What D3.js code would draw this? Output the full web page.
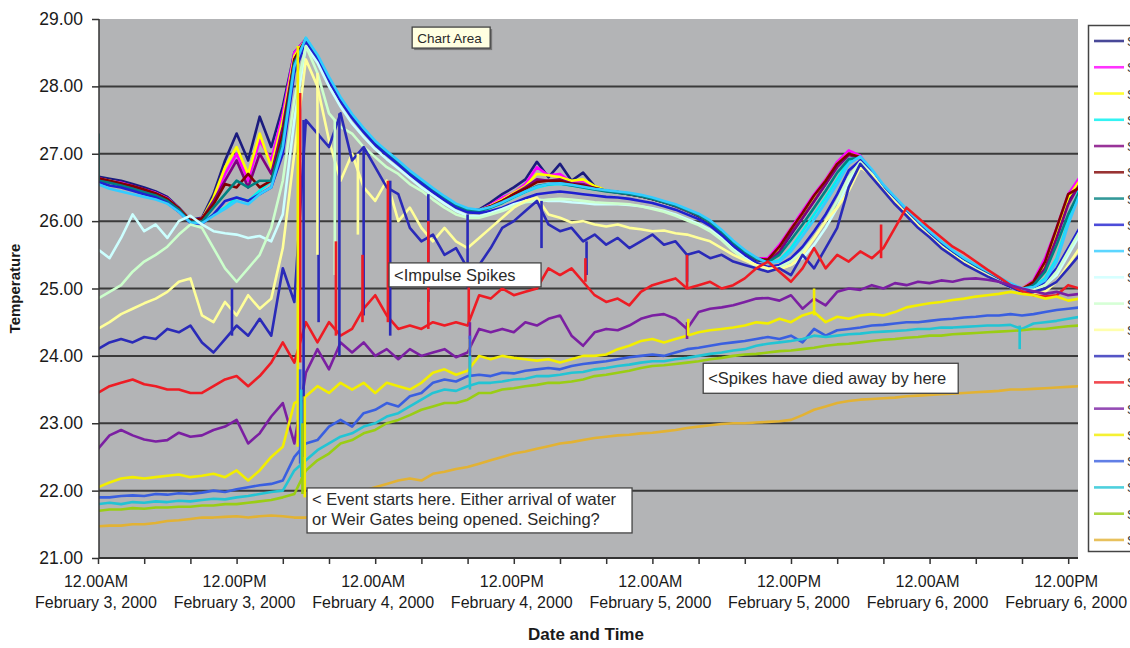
<!DOCTYPE html>
<html lang="en">
<head>
<meta charset="UTF-8">
<script src="https://d3js.org/d3.v7.min.js"></script>
<style>
  body { margin: 0; background: #fff; }
  svg { display: block; font-family: "Liberation Sans", Arial, sans-serif; }
</style>
</head>
<body>
<svg id="chart" width="1130" height="648"></svg>
<script>

// hourly readings from 12.00AM February 3, 2000
const t0 = new Date(2000, 1, 3, 0, 0)
const times = d3.range(86).map(h => d3.timeHour.offset(t0, h))

const s01 = [26.66,26.63,26.6,26.55,26.5,26.44,26.36,26.2,26.02,26.05,
  26.4,26.9,27.3,26.9,27.55,27.1,27.7,28.5,28.7,28.4,
  28.08,27.8,27.55,27.34,27.15,27.0,26.86,26.72,26.58,26.45,
  26.33,26.22,26.16,26.17,26.28,26.4,26.5,26.62,26.88,26.65,
  26.85,26.6,26.72,26.52,26.45,26.42,26.4,26.37,26.33,26.28,
  26.22,26.15,26.07,25.96,25.82,25.66,25.52,25.42,25.4,25.55,
  25.8,26.05,26.3,26.55,26.85,27.02,26.95,26.72,26.5,26.32,
  26.14,25.97,25.81,25.66,25.53,25.41,25.31,25.22,25.13,25.05,
  25.0,25.1,25.4,25.8,26.3,26.6]
const s02 = [26.64,26.6,26.57,26.52,26.47,26.42,26.34,26.19,26.01,26.04,
  26.3,26.7,27.0,26.6,27.2,26.9,27.6,28.5,28.7,28.42,
  28.1,27.8,27.56,27.35,27.16,27.01,26.87,26.72,26.59,26.46,
  26.34,26.23,26.16,26.16,26.24,26.35,26.42,26.55,26.8,26.68,
  26.7,26.58,26.6,26.5,26.46,26.43,26.41,26.38,26.34,26.29,
  26.23,26.16,26.09,25.98,25.84,25.68,25.55,25.45,25.45,25.65,
  25.9,26.15,26.4,26.62,26.88,27.05,26.97,26.74,26.51,26.33,
  26.15,25.98,25.82,25.67,25.54,25.42,25.32,25.23,25.14,25.06,
  25.0,25.12,25.45,25.9,26.4,26.65]
const s03 = [26.63,26.6,26.56,26.51,26.46,26.41,26.33,26.19,26.01,26.03,
  26.35,26.8,27.1,26.7,27.3,26.8,27.5,28.45,28.7,28.43,
  28.1,27.8,27.56,27.35,27.16,27.01,26.87,26.72,26.59,26.46,
  26.34,26.23,26.16,26.16,26.23,26.32,26.42,26.52,26.7,26.68,
  26.65,26.6,26.62,26.52,26.46,26.43,26.41,26.38,26.34,26.29,
  26.23,26.16,26.09,25.98,25.84,25.68,25.54,25.44,25.42,25.6,
  25.88,26.1,26.35,26.6,26.85,27.0,26.95,26.74,26.51,26.33,
  26.15,25.98,25.82,25.67,25.54,25.42,25.32,25.23,25.14,25.05,
  25.0,25.1,25.35,25.85,26.35,26.6]
const s04 = [26.62,26.58,26.55,26.5,26.45,26.4,26.32,26.18,26.0,25.98,
  26.1,26.2,26.35,26.3,26.45,26.6,27.2,28.3,28.72,28.45,
  28.12,27.82,27.57,27.36,27.17,27.02,26.88,26.73,26.6,26.47,
  26.35,26.24,26.17,26.15,26.2,26.27,26.35,26.43,26.5,26.54,
  26.55,26.53,26.5,26.47,26.45,26.43,26.41,26.38,26.34,26.29,
  26.24,26.17,26.1,26.0,25.86,25.7,25.56,25.45,25.38,25.42,
  25.6,25.85,26.1,26.35,26.62,26.9,26.95,26.75,26.52,26.34,
  26.16,25.99,25.83,25.68,25.55,25.43,25.33,25.24,25.15,25.06,
  24.99,25.02,25.15,25.45,26.0,26.5]
const s05 = [26.63,26.59,26.56,26.51,26.46,26.41,26.33,26.19,26.0,26.03,
  26.3,26.6,26.9,26.5,27.0,26.7,27.4,28.4,28.7,28.43,
  28.1,27.8,27.56,27.35,27.16,27.01,26.87,26.72,26.59,26.46,
  26.34,26.23,26.16,26.15,26.22,26.3,26.4,26.5,26.62,26.6,
  26.62,26.56,26.55,26.49,26.45,26.43,26.4,26.37,26.33,26.28,
  26.23,26.16,26.09,25.98,25.84,25.68,25.54,25.44,25.4,25.55,
  25.82,26.05,26.3,26.55,26.8,26.98,26.94,26.74,26.51,26.33,
  26.15,25.98,25.82,25.67,25.54,25.42,25.32,25.23,25.14,25.05,
  24.99,25.08,25.3,25.75,26.25,26.55]
const s06 = [26.64,26.6,26.56,26.52,26.47,26.41,26.33,26.19,26.01,26.04,
  26.25,26.55,26.5,26.7,26.5,26.6,27.3,28.4,28.7,28.43,
  28.1,27.81,27.56,27.35,27.16,27.01,26.87,26.72,26.59,26.46,
  26.34,26.23,26.16,26.16,26.22,26.3,26.4,26.48,26.58,26.6,
  26.6,26.55,26.53,26.49,26.45,26.43,26.4,26.37,26.33,26.28,
  26.23,26.16,26.09,25.98,25.84,25.68,25.54,25.44,25.43,25.62,
  25.88,26.12,26.38,26.6,26.85,27.0,26.95,26.74,26.51,26.33,
  26.15,25.98,25.82,25.67,25.54,25.42,25.32,25.23,25.14,25.05,
  24.99,25.1,25.4,25.9,26.4,26.5]
const s07 = [26.6,26.57,26.53,26.48,26.43,26.38,26.3,26.17,25.99,25.99,
  26.2,26.4,26.6,26.5,26.6,26.6,27.2,28.35,28.7,28.43,
  28.1,27.8,27.56,27.35,27.16,27.01,26.87,26.72,26.59,26.46,
  26.34,26.23,26.16,26.15,26.2,26.27,26.36,26.44,26.52,26.55,
  26.56,26.53,26.5,26.47,26.44,26.42,26.4,26.37,26.33,26.28,
  26.23,26.16,26.09,25.98,25.84,25.68,25.54,25.44,25.39,25.5,
  25.72,25.95,26.2,26.45,26.72,26.92,26.94,26.74,26.51,26.33,
  26.15,25.98,25.82,25.67,25.54,25.42,25.32,25.23,25.14,25.05,
  24.98,25.05,25.25,25.65,26.1,26.45]
const s08 = [26.58,26.53,26.5,26.45,26.4,26.35,26.27,26.14,25.97,25.96,
  26.1,26.3,26.35,26.3,26.4,26.5,27.0,28.2,28.65,28.4,
  28.08,27.78,27.53,27.32,27.13,26.98,26.84,26.69,26.56,26.43,
  26.31,26.2,26.13,26.12,26.15,26.2,26.27,26.34,26.4,26.42,
  26.44,26.42,26.4,26.38,26.36,26.35,26.33,26.3,26.27,26.22,
  26.17,26.1,26.03,25.93,25.79,25.63,25.5,25.38,25.32,25.35,
  25.45,25.62,25.85,26.1,26.4,26.75,26.9,26.72,26.49,26.31,
  26.13,25.96,25.8,25.65,25.52,25.4,25.3,25.21,25.12,25.04,
  24.97,24.98,25.1,25.3,25.6,25.9]
const s09 = [26.55,26.48,26.44,26.4,26.36,26.32,26.26,26.14,25.98,25.97,
  26.08,26.18,26.3,26.25,26.4,26.5,27.1,28.3,28.72,28.47,
  28.14,27.84,27.59,27.38,27.19,27.04,26.9,26.75,26.62,26.49,
  26.37,26.26,26.19,26.17,26.21,26.28,26.36,26.44,26.51,26.55,
  26.56,26.54,26.51,26.48,26.46,26.44,26.42,26.39,26.35,26.3,
  26.25,26.18,26.11,26.01,25.87,25.71,25.57,25.46,25.38,25.4,
  25.55,25.78,26.02,26.28,26.55,26.85,26.96,26.77,26.54,26.36,
  26.18,26.01,25.85,25.7,25.57,25.45,25.35,25.26,25.17,25.08,
  25.0,25.02,25.12,25.4,25.95,26.4]
const s10 = [25.58,25.45,25.75,26.1,25.85,25.95,25.75,26.0,26.08,25.95,
  25.85,25.82,25.8,25.75,25.78,25.7,26.1,27.5,28.6,28.35,
  28.0,27.7,27.45,27.25,27.07,26.92,26.78,26.64,26.5,26.38,
  26.26,26.15,26.08,26.07,26.12,26.18,26.25,26.3,26.32,26.3,
  26.3,26.28,26.27,26.25,26.25,26.25,26.24,26.22,26.19,26.15,
  26.1,26.03,25.96,25.87,25.74,25.58,25.45,25.34,25.28,25.3,
  25.35,25.45,25.65,25.9,26.2,26.6,26.85,26.7,26.46,26.28,
  26.1,25.93,25.77,25.62,25.5,25.38,25.28,25.19,25.1,25.02,
  24.96,24.97,25.05,25.2,25.5,25.8]
const s11 = [24.85,24.95,25.05,25.25,25.4,25.5,25.62,25.8,25.95,25.9,
  25.6,25.3,25.1,25.3,25.5,25.9,26.6,27.8,28.6,28.2,
  27.6,27.4,27.3,27.1,26.95,26.8,26.7,26.55,26.45,26.32,
  26.2,26.1,26.05,26.05,26.1,26.15,26.22,26.28,26.3,26.32,
  26.33,26.32,26.3,26.28,26.27,26.26,26.25,26.22,26.18,26.14,
  26.08,26.01,25.94,25.85,25.72,25.56,25.43,25.33,25.28,25.32,
  25.4,25.55,25.75,26.0,26.3,26.65,26.88,26.7,26.47,26.29,
  26.11,25.94,25.78,25.63,25.5,25.39,25.29,25.2,25.11,25.03,
  24.97,24.98,25.05,25.25,25.55,25.85]
const s12 = [24.4,24.5,24.62,24.7,24.78,24.85,24.95,25.1,25.15,24.6,
  24.5,24.8,24.6,24.9,24.7,24.85,25.6,27.0,28.4,28.0,
  27.2,26.6,27.0,26.5,26.3,26.6,26.0,26.2,25.9,25.7,
  25.9,25.7,25.6,25.75,25.9,26.05,26.2,26.3,26.35,26.1,
  26.05,25.98,26.0,25.95,25.92,25.95,25.9,25.88,25.85,25.86,
  25.82,25.8,25.75,25.7,25.6,25.5,25.42,25.35,25.3,25.28,
  25.35,25.5,25.75,26.0,26.2,26.45,26.8,26.68,26.46,26.28,
  26.1,25.93,25.77,25.62,25.5,25.38,25.28,25.19,25.1,25.02,
  24.95,24.9,24.95,25.1,25.35,25.6]
const s13 = [24.1,24.2,24.25,24.2,24.28,24.25,24.4,24.35,24.45,24.2,
  24.05,24.25,24.45,24.3,24.55,24.3,25.3,24.8,27.5,27.3,
  27.1,27.6,26.9,27.1,26.8,26.5,26.4,25.9,25.7,25.8,
  25.5,25.6,25.3,25.35,25.6,25.9,26.0,26.15,26.3,25.95,
  25.85,25.9,25.7,25.8,25.65,25.75,25.6,25.7,25.8,25.65,
  25.7,25.5,25.55,25.45,25.5,25.4,25.35,25.3,25.25,25.3,
  25.2,25.5,25.3,25.6,25.9,26.5,26.85,26.65,26.45,26.25,
  26.08,25.9,25.76,25.6,25.48,25.36,25.27,25.18,25.1,25.02,
  24.95,24.95,25.0,25.1,25.3,25.5]
const s14 = [23.45,23.55,23.6,23.65,23.58,23.55,23.5,23.5,23.45,23.45,
  23.55,23.65,23.7,23.55,23.7,23.9,24.2,23.9,24.5,24.2,
  24.5,24.3,24.4,24.7,24.9,24.6,24.4,24.45,24.4,24.5,
  24.45,24.5,24.45,24.9,24.85,25.0,24.9,24.95,25.0,25.3,
  25.2,25.3,25.1,24.9,24.8,24.85,24.75,24.95,25.05,25.1,
  25.15,25.0,25.05,25.1,25.0,25.05,25.15,25.3,25.4,25.25,
  25.1,25.3,25.6,25.3,25.5,25.4,25.55,25.45,25.6,25.9,
  26.2,26.05,25.9,25.76,25.62,25.52,25.4,25.28,25.17,25.05,
  24.96,24.9,24.88,24.9,25.05,25.0]
const s15 = [22.62,22.82,22.9,22.82,22.76,22.73,22.75,22.86,22.8,22.82,
  22.9,22.95,23.05,22.7,22.85,23.1,23.3,22.7,23.75,24.1,
  23.8,24.2,24.05,24.2,24.0,24.1,23.95,24.1,24.0,24.05,
  24.1,23.98,24.05,24.4,24.35,24.4,24.35,24.5,24.45,24.55,
  24.6,24.3,24.15,24.35,24.4,24.38,24.45,24.55,24.6,24.62,
  24.55,24.4,24.65,24.7,24.72,24.75,24.8,24.85,24.86,24.82,
  24.9,24.7,24.85,24.75,24.95,25.0,24.98,25.05,25.0,25.08,
  25.05,25.1,25.08,25.12,25.1,25.14,25.15,25.13,25.1,25.05,
  25.0,24.96,24.92,24.95,24.9,24.92]
const s16 = [22.05,22.12,22.18,22.2,22.18,22.2,22.22,22.24,22.2,22.22,
  22.25,22.2,22.3,22.15,22.3,22.5,22.65,23.3,23.4,23.55,
  23.45,23.6,23.5,23.6,23.45,23.6,23.55,23.5,23.6,23.75,
  23.8,23.72,23.78,24.0,23.95,24.0,23.97,23.95,23.93,23.95,
  23.9,23.95,24.0,24.0,24.02,24.1,24.15,24.22,24.25,24.2,
  24.25,24.3,24.35,24.38,24.4,24.42,24.45,24.5,24.48,24.55,
  24.5,24.6,24.65,24.5,24.58,24.55,24.6,24.62,24.6,24.65,
  24.72,24.75,24.78,24.8,24.83,24.85,24.88,24.9,24.92,24.95,
  24.92,24.9,24.85,24.88,24.82,24.85]
const s17 = [21.9,21.9,21.92,21.93,21.92,21.95,21.94,21.96,21.95,21.97,
  22.0,21.98,22.02,22.05,22.08,22.1,22.15,22.5,22.7,22.75,
  22.95,23.05,22.95,23.15,23.2,23.3,23.25,23.4,23.45,23.6,
  23.65,23.62,23.7,23.72,23.7,23.75,23.74,23.78,23.8,23.82,
  23.8,23.85,23.88,23.9,23.92,23.95,23.98,24.0,24.02,24.0,
  24.05,24.1,24.12,24.15,24.18,24.2,24.22,24.25,24.28,24.25,
  24.3,24.2,24.4,24.3,24.38,24.4,24.42,24.45,24.46,24.48,
  24.5,24.5,24.52,24.54,24.55,24.57,24.58,24.6,24.6,24.62,
  24.6,24.62,24.65,24.68,24.7,24.72]
const s18 = [21.8,21.82,21.8,21.83,21.82,21.84,21.83,21.85,21.84,21.86,
  21.88,21.87,21.9,21.92,21.95,21.98,22.0,22.3,22.45,22.6,
  22.7,22.8,22.85,22.95,23.0,23.1,23.15,23.25,23.35,23.45,
  23.5,23.48,23.55,23.6,23.6,23.62,23.65,23.66,23.7,23.7,
  23.72,23.75,23.76,23.8,23.82,23.85,23.87,23.9,23.92,23.92,
  23.95,23.97,24.0,24.03,24.05,24.08,24.1,24.15,24.18,24.2,
  24.22,24.25,24.3,24.28,24.3,24.32,24.33,24.35,24.36,24.37,
  24.38,24.4,24.4,24.42,24.42,24.43,24.44,24.45,24.45,24.46,
  24.4,24.48,24.5,24.52,24.55,24.58]
const s19 = [21.7,21.72,21.72,21.74,21.73,21.75,21.75,21.76,21.76,21.78,
  21.78,21.8,21.8,21.82,21.84,21.86,21.9,21.95,22.3,22.45,
  22.55,22.7,22.75,22.85,22.9,23.0,23.05,23.12,23.2,23.25,
  23.3,23.3,23.35,23.45,23.45,23.5,23.52,23.55,23.57,23.6,
  23.6,23.62,23.65,23.7,23.72,23.75,23.78,23.82,23.85,23.86,
  23.88,23.9,23.92,23.95,23.97,24.0,24.02,24.03,24.05,24.07,
  24.08,24.1,24.12,24.15,24.17,24.18,24.2,24.22,24.24,24.25,
  24.27,24.28,24.3,24.3,24.32,24.33,24.34,24.35,24.36,24.37,
  24.38,24.4,24.4,24.42,24.44,24.45]
const s20 = [21.47,21.48,21.48,21.5,21.5,21.52,21.55,21.56,21.58,21.6,
  21.6,21.61,21.62,21.6,21.62,21.63,21.62,21.6,21.6,21.65,
  21.75,21.85,21.92,22.0,22.05,22.1,22.15,22.18,22.15,22.25,
  22.28,22.32,22.35,22.4,22.45,22.5,22.55,22.58,22.62,22.66,
  22.7,22.72,22.75,22.78,22.8,22.82,22.83,22.85,22.86,22.88,
  22.9,22.93,22.95,22.97,22.99,23.0,23.0,23.01,23.02,23.03,
  23.05,23.12,23.2,23.25,23.3,23.33,23.35,23.36,23.37,23.38,
  23.4,23.41,23.42,23.43,23.44,23.45,23.46,23.47,23.48,23.5,
  23.5,23.51,23.52,23.53,23.54,23.55]

const seriesValues = [s01,s02,s03,s04,s05,s06,s07,s08,s09,s10,s11,s12,s13,s14,s15,s16,s17,s18,s19,s20]
const seriesNames = d3.range(1, 21).map(i => 'Series' + i)
const seriesColors = ['#1b1b7e','#ff00ff','#ffff00','#00f0f0','#800080','#800000','#008080','#1f1fd0','#33ccff','#ccffff',
  '#ccffcc','#ffff99','#2a2ab8','#ee1c24','#7b1fa2','#f2ee00','#3a5fe0','#22c4d4','#9acd14','#e2b234']

// short impulse spikes: [series, hour, from, to]
const spikes = [
  [7, 0.05, 26.6, 27.3],
  [13, 11.6, 24.3, 25.0], [13, 17.8, 27.5, 22.5], [13, 19.1, 27.3, 24.5], [13, 20.9, 27.6, 24.0],
  [13, 23.0, 27.1, 24.6], [13, 25.3, 26.6, 24.3], [13, 28.6, 26.4, 24.8], [13, 32.0, 26.1, 25.0],
  [13, 38.4, 26.3, 25.6], [13, 42.3, 25.7, 25.2], [13, 51.0, 25.5, 25.1],
  [12, 19.0, 28.2, 25.5], [12, 22.5, 27.0, 25.8], [11, 20.5, 27.5, 25.2],
  [14, 17.5, 23.9, 27.9], [14, 20.6, 24.3, 25.7], [14, 22.9, 24.5, 25.5], [14, 25.1, 24.5, 26.6],
  [14, 28.6, 24.4, 26.0], [14, 32.1, 24.45, 25.1], [14, 42.2, 25.1, 25.45], [14, 51.0, 25.0, 25.5],
  [14, 67.8, 25.45, 25.95],
  [15, 32.2, 24.05, 24.5], [15, 51.0, 24.5, 24.25],
  [16, 17.3, 22.65, 28.6], [16, 17.9, 23.4, 21.9], [16, 32.2, 23.78, 24.25], [16, 51.1, 24.3, 24.55], [16, 62.0, 24.6, 25.0],
  [17, 17.5, 22.4, 23.8], [17, 32.2, 23.7, 24.3],
  [18, 17.6, 22.2, 23.5], [18, 32.2, 23.5, 24.0], [18, 79.8, 24.45, 24.1],
  [19, 17.7, 21.95, 23.0]
]

// text boxes: hour and temperature of the top-left corner
const notes = [
  {hour: 27.2, temp: 28.88, w: 78, h: 21, lines: ['Chart Area'], tip: true},
  {hour: 25.2, temp: 25.38, w: 152, h: 24, lines: ['<Impulse Spikes']},
  {hour: 18.1, temp: 22.04, w: 325, h: 45, lines: ['< Event starts here. Either arrival of water', 'or Weir Gates being opened. Seiching?']},
  {hour: 52.4, temp: 23.89, w: 255, h: 30, lines: ['<Spikes have died away by here']}
]

const yTicks = [21, 22, 23, 24, 25, 26, 27, 28, 29]

const plot = {left: 99, right: 1078, top: 19, bottom: 558}
const atHour = h => new Date(+t0 + h * 3600e3)

let x = d3.scaleTime()
    .domain([t0, atHour(84.85)])
    .range([98, plot.right])

let y = d3.scaleLinear()
    .domain([21, 29])
    .range([plot.bottom, plot.top])

let svg = d3.select('#chart')

svg.append('defs').append('clipPath')
    .attr('id', 'plotclip')
  .append('rect')
    .attr('x', plot.left)
    .attr('y', plot.top - 2)
    .attr('width', plot.right - plot.left)
    .attr('height', plot.bottom - plot.top + 2)

// plot background
svg.append('rect')
    .attr('x', plot.left)
    .attr('y', plot.top)
    .attr('width', plot.right - plot.left)
    .attr('height', plot.bottom - plot.top)
    .attr('fill', '#b3b4b6')

// gridlines
svg.append('g')
  .selectAll('line')
  .data(yTicks.filter(d => d > 21 && d < 29))
  .join('line')
    .attr('x1', plot.left)
    .attr('x2', plot.right)
    .attr('y1', d => y(d))
    .attr('y2', d => y(d))
    .attr('stroke', '#3a3a3a')
    .attr('stroke-width', 2)

// series
let lines = svg.append('g').attr('clip-path', 'url(#plotclip)')
let line = d3.line()
    .x((d, i) => x(times[i]))
    .y(d => y(d))

lines.selectAll('path')
  .data(seriesValues)
  .join('path')
    .attr('d', line)
    .attr('fill', 'none')
    .attr('stroke', (d, i) => seriesColors[i])
    .attr('stroke-width', 2.6)
    .attr('stroke-linejoin', 'round')

lines.selectAll('line.spike')
  .data(spikes)
  .join('line')
    .attr('class', 'spike')
    .attr('x1', d => x(atHour(d[1])))
    .attr('x2', d => x(atHour(d[1])))
    .attr('y1', d => y(d[2]))
    .attr('y2', d => y(d[3]))
    .attr('stroke', d => seriesColors[d[0] - 1])
    .attr('stroke-width', 2.6)

// y axis
let yAxis = svg.append('g')
    .attr('transform', `translate(${plot.left},0)`)
    .call(d3.axisLeft(y).tickValues(yTicks).tickFormat(d3.format('.2f')).tickSize(7).tickPadding(9))
yAxis.select('.domain').remove()
yAxis.selectAll('.tick line').attr('stroke', '#333').attr('stroke-width', 1.5)
yAxis.selectAll('.tick text')
    .attr('font-size', 17.5)
    .attr('fill', '#1a1a1a')
    .attr('font-family', '"Liberation Sans", Arial, sans-serif')
svg.append('line')
    .attr('x1', plot.left).attr('x2', plot.left)
    .attr('y1', plot.top).attr('y2', plot.bottom + 1)
    .attr('stroke', '#333').attr('stroke-width', 1.5)

// x axis
let xAxis = svg.append('g')
    .attr('transform', `translate(0,${plot.bottom})`)
    .call(d3.axisBottom(x).ticks(d3.timeHour.every(4)).tickSize(6).tickFormat(''))
xAxis.select('.domain').remove()
xAxis.selectAll('.tick line').attr('stroke', '#333').attr('stroke-width', 1.5)
svg.append('line')
    .attr('x1', plot.left).attr('x2', plot.right)
    .attr('y1', plot.bottom).attr('y2', plot.bottom)
    .attr('stroke', '#333').attr('stroke-width', 2)

let fmtTime = d3.timeFormat('%I.%M%p')
let fmtDate = d3.timeFormat('%B %-d, %Y')
let xLabels = svg.append('g')
  .selectAll('text')
  .data(x.ticks(d3.timeHour.every(12)))
  .join('text')
    .attr('text-anchor', 'middle')
    .attr('font-size', 16)
    .attr('fill', '#1a1a1a')
xLabels.append('tspan')
    .attr('x', d => x(d) - 2)
    .attr('y', 587)
    .text(d => fmtTime(d))
xLabels.append('tspan')
    .attr('x', d => x(d) - 2)
    .attr('y', 608)
    .text(d => fmtDate(d))

// axis titles
svg.append('text')
    .attr('transform', `translate(20,${(plot.top + plot.bottom) / 2}) rotate(-90)`)
    .attr('text-anchor', 'middle')
    .attr('font-size', 15)
    .attr('font-weight', 'bold')
    .attr('fill', '#1a1a1a')
    .text('Temperature')
svg.append('text')
    .attr('x', 586)
    .attr('y', 640)
    .attr('text-anchor', 'middle')
    .attr('font-size', 17)
    .attr('font-weight', 'bold')
    .attr('fill', '#1a1a1a')
    .text('Date and Time')

// annotations
let note = svg.append('g')
  .selectAll('g')
  .data(notes)
  .join('g')
    .attr('transform', d => `translate(${x(atHour(d.hour))},${y(d.temp)})`)
note.filter(d => d.tip).append('rect')
    .attr('x', 2).attr('y', 2)
    .attr('width', d => d.w).attr('height', d => d.h)
    .attr('fill', '#777')
note.append('rect')
    .attr('width', d => d.w)
    .attr('height', d => d.h)
    .attr('fill', d => d.tip ? '#ffffe1' : '#fff')
    .attr('stroke', '#444')
    .attr('stroke-width', 1.3)
note.each(function(d) {
    let t = d3.select(this).append('text')
        .attr('font-size', d.tip ? 13.5 : 16.5)
        .attr('fill', '#2a2a2a')
    d.lines.forEach((s, i) => {
        t.append('tspan')
            .attr('x', 5)
            .attr('y', d.tip ? 15.5 : (d.lines.length > 1 ? 17 + i * 20 : d.h / 2 + 6))
            .text(s)
    })
})

// legend (runs off the right edge, as in the source)
let legend = svg.append('g')
legend.append('rect')
    .attr('x', 1088.5)
    .attr('y', 25.5)
    .attr('width', 60)
    .attr('height', 526)
    .attr('fill', '#fff')
    .attr('stroke', '#444')
    .attr('stroke-width', 1.5)
let item = legend.selectAll('g.item')
  .data(seriesNames)
  .join('g')
    .attr('class', 'item')
    .attr('transform', (d, i) => `translate(0,${41 + i * 26.26})`)
item.append('line')
    .attr('x1', 1094).attr('x2', 1124)
    .attr('stroke', (d, i) => seriesColors[i])
    .attr('stroke-opacity', 0.8)
    .attr('stroke-width', 2.6)
item.append('text')
    .attr('x', 1127)
    .attr('y', 5)
    .attr('font-size', 13)
    .attr('fill', '#333')
    .text(d => d)

</script>
</body>
</html>
